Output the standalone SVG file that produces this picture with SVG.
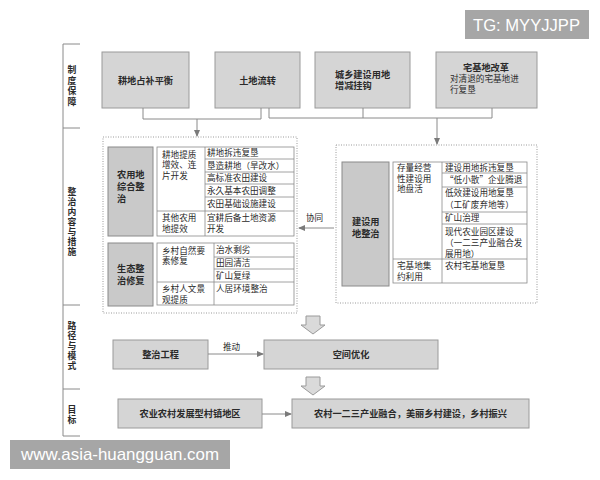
<svg xmlns="http://www.w3.org/2000/svg" width="600" height="480" viewBox="0 0 600 480">
<style>
text{font-family:"Noto Sans CJK SC","Noto Sans",sans-serif;fill:#2a2a2a;font-size:8.6px}
.b{font-weight:bold;font-size:9.2px}
.c{text-anchor:middle}
.box{fill:#d5d5d5;stroke:#9a9a9a;stroke-width:1}
.lab{fill:#c9c9c9;stroke:#8a8a8a;stroke-width:1}
.cell{fill:#fff;stroke:#8a8a8a;stroke-width:0.8}
.dot{fill:none;stroke:#9a9a9a;stroke-width:1;stroke-dasharray:1 1.5}
.ln{fill:none;stroke:#8a8a8a;stroke-width:1}
.blk{fill:#dadada;stroke:#9a9a9a;stroke-width:1}
.side{font-weight:bold;font-size:8.8px;writing-mode:vertical-rl;letter-spacing:1.2px}
.wm{fill:#a6a6a6}
.wmt{font-family:"Liberation Sans",Arial,sans-serif;fill:#fff;font-size:17px}
</style>
<defs>
<marker id="ah" markerWidth="7" markerHeight="6" refX="6" refY="3" orient="auto" markerUnits="userSpaceOnUse">
<path d="M0,0 L7,3 L0,6 Z" fill="#7a7a7a"/>
</marker>
</defs>

<g id="bracket">
<path class="ln" d="M80,44 H63 V436 H80 M63,128 H80 M63,305 H80 M63,389 H80"/>
<text class="side" x="72" y="65.5" style="letter-spacing:1.7px">制度保障</text>
<text class="side" x="72" y="187.5">整治内容与措施</text>
<text class="side" x="72" y="321.5">路径与模式</text>
<text class="side" x="72" y="405.5">目标</text>
</g>

<g id="n-gengdi">
<rect class="box" x="102" y="52" width="87" height="56"/>
<text class="b c" x="145.5" y="83.5">耕地占补平衡</text>
</g>
<g id="n-liuzhuan">
<rect class="box" x="215" y="52" width="85" height="56"/>
<text class="b c" x="257.5" y="83.5">土地流转</text>
</g>
<g id="n-guagou">
<rect class="box" x="315" y="52" width="95" height="56"/>
<text class="b" x="335" y="78">城乡建设用地</text>
<text class="b" x="335" y="89">增减挂钩</text>
</g>
<g id="n-zhaijidi">
<rect class="box" x="436" y="52" width="101" height="56"/>
<text class="b c" x="486" y="70.5">宅基地改革</text>
<text x="450" y="81.5">对清退的宅基地进</text>
<text x="450" y="92.5">行复垦</text>
</g>

<g id="g-left">
<rect class="dot" x="103" y="137" width="194" height="176"/>
</g>
<g id="n-nongyong">
<rect class="lab" x="108" y="147" width="45" height="89"/>
<text class="b" x="117" y="178">农用地</text>
<text class="b" x="117" y="190">综合整</text>
<text class="b" x="117" y="202">治</text>
<rect class="cell" x="157" y="147" width="137" height="89"/>
<path class="ln" style="stroke-width:0.8" d="M205,147 V236 M205,159 H294 M205,172 H294 M205,184 H294 M205,197 H294 M157,211 H294"/>
<text x="162" y="157.5">耕地提质</text>
<text x="162" y="168">增效、连</text>
<text x="162" y="178.5">片开发</text>
<text x="207" y="156.2">耕地拆违复垦</text>
<text x="207" y="168.7">垦造耕地（旱改水）</text>
<text x="207" y="181.2">高标准农田建设</text>
<text x="207" y="193.7">永久基本农田调整</text>
<text x="207" y="207.2">农田基础设施建设</text>
<text x="162" y="221">其他农用</text>
<text x="162" y="231.5">地提效</text>
<text x="207" y="221">宜耕后备土地资源</text>
<text x="207" y="231.5">开发</text>
</g>
<g id="n-shengtai">
<rect class="lab" x="108" y="243" width="45" height="63"/>
<text class="b" x="117" y="272">生态整</text>
<text class="b" x="117" y="284">治修复</text>
<rect class="cell" x="157" y="243" width="137" height="62"/>
<path class="ln" style="stroke-width:0.8" d="M214,243 V305 M214,257 H294 M214,269 H294 M157,282 H294"/>
<text x="162" y="253.5">乡村自然要</text>
<text x="162" y="264">素修复</text>
<text x="216" y="253.2">治水剩劣</text>
<text x="216" y="266.2">田园清洁</text>
<text x="216" y="278.7">矿山复绿</text>
<text x="162" y="292">乡村人文景</text>
<text x="162" y="302.5">观提质</text>
<text x="216" y="292">人居环境整治</text>
</g>

<g id="g-right">
<rect class="dot" x="336" y="145" width="201" height="158"/>
</g>
<g id="n-jianshe">
<rect class="lab" x="342" y="162" width="47" height="124"/>
<text class="b" x="352" y="225">建设用</text>
<text class="b" x="352" y="237">地整治</text>
<rect class="cell" x="393" y="162" width="134" height="121"/>
<path class="ln" style="stroke-width:0.8" d="M442,162 V283 M442,173 H527 M442,187 H527 M442,212 H527 M442,224 H527 M393,259 H527"/>
<text x="397" y="171">存量经营</text>
<text x="397" y="181.5">性建设用</text>
<text x="397" y="192">地盘活</text>
<text x="445" y="170.7">建设用地拆违复垦</text>
<text x="445" y="183.2">“低小散”企业腾退</text>
<text x="445" y="196">低效建设用地复垦</text>
<text x="445" y="207.5">（工矿废弃地等）</text>
<text x="445" y="221.2">矿山治理</text>
<text x="445" y="234.5">现代农业园区建设</text>
<text x="445" y="245.5">（一二三产业融合发</text>
<text x="445" y="256.5">展用地）</text>
<text x="397" y="269">宅基地集</text>
<text x="397" y="280">约利用</text>
<text x="445" y="269">农村宅基地复垦</text>
</g>

<g id="n-gongcheng">
<rect class="box" x="113" y="340" width="95" height="29"/>
<text class="b c" x="160.5" y="358.3">整治工程</text>
</g>
<g id="n-youhua">
<rect class="box" x="264" y="340" width="174" height="29"/>
<text class="b c" x="351" y="358.3">空间优化</text>
</g>
<g id="n-diqu">
<rect class="box" x="118" y="399" width="144" height="29"/>
<text class="b c" x="190" y="417.3">农业农村发展型村镇地区</text>
</g>
<g id="n-zhenxing">
<rect class="box" x="292" y="399" width="237" height="29"/>
<text class="b c" x="410.5" y="417.3">农村一二三产业融合，美丽乡村建设，乡村振兴</text>
</g>

<g id="connectors">
<path class="ln" d="M143,108 V119 H261 V108"/>
<path class="ln" marker-end="url(#ah)" d="M197,119 V136"/>
<path class="ln" d="M269,108 V118 H492 V108 M363,108 V118"/>
<path class="ln" marker-end="url(#ah)" d="M437,118 V144"/>
<path class="ln" marker-end="url(#ah)" d="M334,228 H299"/>
<text x="306" y="221">协同</text>
<path class="ln" marker-end="url(#ah)" d="M208,354 H263"/>
<text x="223" y="350">推动</text>
<path class="ln" marker-end="url(#ah)" d="M262,414 H291"/>
<polygon class="blk" points="306,316 320,316 320,325 325,325 313,334 301,325 306,325"/>
<polygon class="blk" points="306,377 320,377 320,386 325,386 313,395 301,386 306,386"/>
</g>

<g id="watermarks">
<rect class="wm" x="465" y="10" width="124" height="29"/>
<text class="wmt" x="473" y="31" textLength="107" lengthAdjust="spacingAndGlyphs">TG: MYYJJPP</text>
<rect class="wm" x="10" y="440" width="220" height="29"/>
<text class="wmt" x="21" y="460" textLength="198" lengthAdjust="spacingAndGlyphs">www.asia-huangguan.com</text>
</g>
</svg>
